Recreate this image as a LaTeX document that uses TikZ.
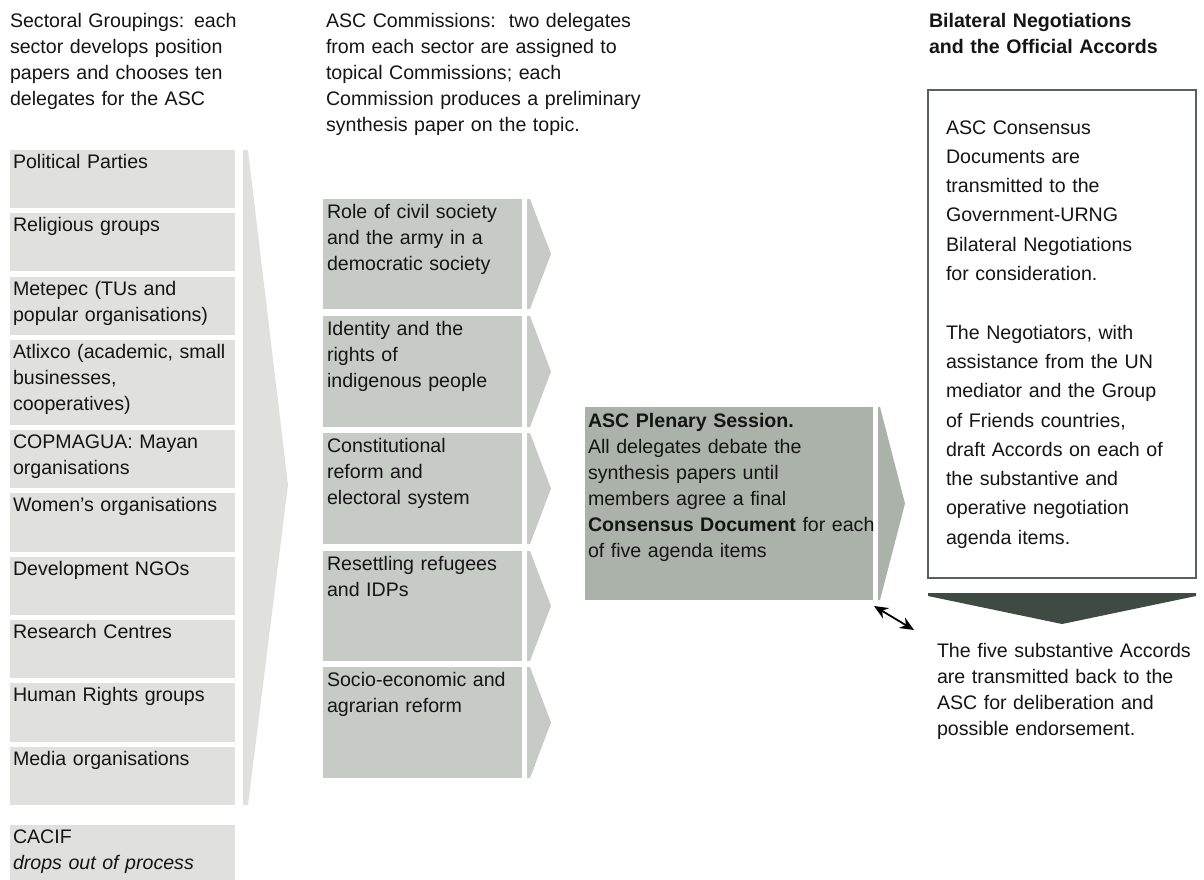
\documentclass[tikz,border=0pt]{standalone}
\usepackage{fontspec}
\setmainfont{Liberation Sans}
\usetikzlibrary{arrows.meta}

\definecolor{sectorgrey}{HTML}{E0E1DF}
\definecolor{commgrey}{HTML}{C6CBC5}
\definecolor{plengrey}{HTML}{AAB2A9}
\definecolor{framegreen}{HTML}{56625A}
\definecolor{darkarrow}{HTML}{3F4A42}
\definecolor{inkc}{HTML}{151515}

% a filled sector box with its label set from the top left corner
\newcommand\sectorbox[4]{%
  \node[sectorcell, minimum height={#3-#2}] (#1) at (10,#2) {};
  \node[txt] (#1-t) at ([shift={(3,18)}]#1.north west) {#4};
}
% a commission box with its chevron on the right
\newcommand\commbox[4]{%
  \node[commcell, minimum height={#3-#2}] (#1) at (323,#2) {};
  \node[txt] (#1-t) at ([shift={(4,19)}]#1.north west) {#4};
  \fill[commgrey] ([xshift=5]#1.north east) -- ([xshift=8]#1.north east)
    -- ([xshift=29]#1.east) -- ([xshift=8]#1.south east)
    -- ([xshift=5]#1.south east) -- cycle;
}

\begin{document}
\begin{tikzpicture}[x=1pt,y=-1pt,
  every node/.style={inner sep=0pt, outer sep=0pt},
  txt/.style={anchor=base west, align=left, text width=330pt, text=inkc,
    font=\fontsize{19.6}{26}\selectfont},
  sectorcell/.style={anchor=north west, fill=sectorgrey, minimum width=225pt},
  commcell/.style={anchor=north west, fill=commgrey, minimum width=199pt},
]
\clip (0,0) rectangle (1204,879);
\fill[white] (0,0) rectangle (1204,879);

% column headings
\node[txt] (h-sector) at (10,27) {Sectoral Groupings: each\\sector develops position\\papers and chooses ten\\delegates for the ASC};
\node[txt] (h-comm) at (326,27) {ASC Commissions:\ \ two delegates\\from each sector are assigned to\\topical Commissions; each\\Commission produces a preliminary\\synthesis paper on the topic.};
\node[txt, font=\fontsize{19.6}{26}\bfseries\selectfont] (h-bilat) at (929,27) {Bilateral Negotiations\\and the Official Accords};

% sectoral groupings
\sectorbox{pp}{150}{208}{Political Parties}
\sectorbox{rel}{213}{271}{Religious groups}
\sectorbox{met}{277}{335}{Metepec (TUs and\\popular organisations)}
\sectorbox{atl}{340}{425}{Atlixco (academic, small\\businesses,\\cooperatives)}
\sectorbox{cop}{430}{488}{COPMAGUA: Mayan\\organisations}
\sectorbox{wom}{493}{552}{Women's organisations}
\sectorbox{ngo}{557}{615}{Development NGOs}
\sectorbox{res}{620}{678}{Research Centres}
\sectorbox{hr}{683}{742}{Human Rights groups}
\sectorbox{med}{747}{805}{Media organisations}
\sectorbox{cacif}{825}{890}{CACIF\\\itshape drops out of process}

% large chevron gathering the sectors
\fill[sectorgrey] ([xshift=8]pp.north east) -- ([xshift=13]pp.north east)
  -- (288,485) -- ([xshift=13]med.south east) -- ([xshift=8]med.south east) -- cycle;

% topical commissions
\commbox{civ}{199}{309}{Role of civil society\\and the army in a\\democratic society}
\commbox{ind}{316}{427}{Identity and the\\rights of\\indigenous people}
\commbox{con}{433}{544}{Constitutional\\reform and\\electoral system}
\commbox{ref}{551}{661}{Resettling refugees\\and IDPs}
\commbox{soc}{667}{778}{Socio-economic and\\agrarian reform}

% plenary session
\node[anchor=north west, fill=plengrey, minimum width=288pt, minimum height=193pt] (plen) at (585,407) {};
\node[txt] (plen-t) at ([shift={(3,20)}]plen.north west) {\textbf{ASC Plenary Session.}\\All delegates debate the\\synthesis papers until\\members agree a final\\\textbf{Consensus Document} for each\\of five agenda items};
\fill[plengrey] ([xshift=5]plen.north east) -- ([xshift=7]plen.north east)
  -- ([xshift=32]plen.east) -- ([xshift=7]plen.south east)
  -- ([xshift=5]plen.south east) -- cycle;

% bilateral negotiations
\node[anchor=north west, draw=framegreen, line width=2pt, minimum width=268pt, minimum height=488pt] (bilat) at (928,90) {};
\node[txt, font=\fontsize{19.6}{29.3}\selectfont] (bilat-t) at ([shift={(18,44)}]bilat.north west) {ASC Consensus\\Documents are\\transmitted to the\\Government-URNG\\Bilateral Negotiations\\for consideration.\\[29.3pt]The Negotiators, with\\assistance from the UN\\mediator and the Group\\of Friends countries,\\draft Accords on each of\\the substantive and\\operative negotiation\\agenda items.};
\fill[darkarrow] ([yshift=-15]bilat.south west) -- ([yshift=-15]bilat.south east)
  -- ([yshift=-18]bilat.south east) -- ([yshift=-46]bilat.south)
  -- ([yshift=-18]bilat.south west) -- cycle;

% accords returned to the ASC
\node[txt] (ret) at (937,657) {The five substantive Accords\\are transmitted back to the\\ASC for deliberation and\\possible endorsement.};
\coordinate (plen-c) at ([shift={(1,6)}]plen.south east);
\coordinate (ret-c) at (914,630);
\draw[line width=1.8pt, {Stealth[length=14pt,width=12pt]}-{Stealth[length=14pt,width=12pt]}] (plen-c) -- (ret-c);
\end{tikzpicture}
\end{document}
